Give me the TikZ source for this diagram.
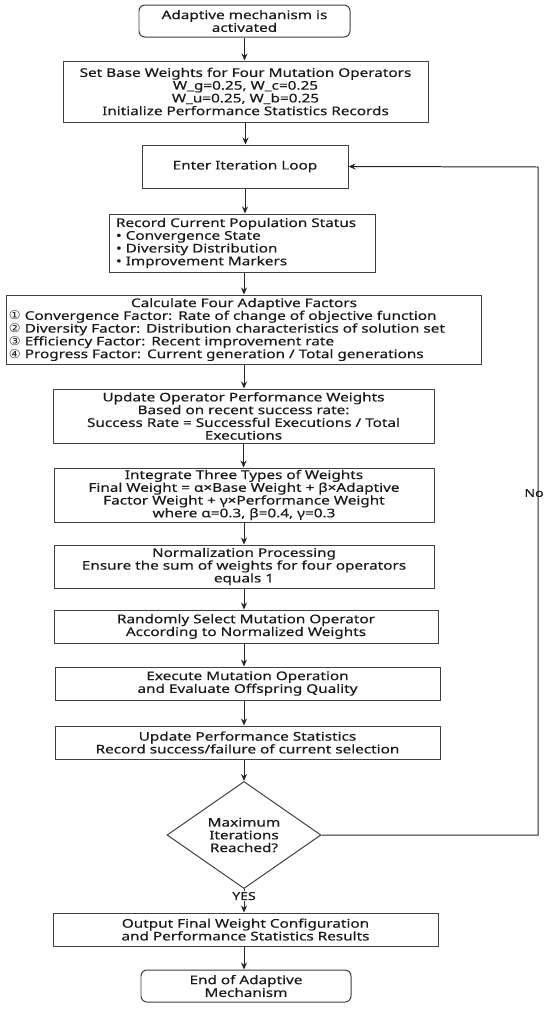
\documentclass[tikz,border=0pt]{standalone}
\usepackage{fontspec}
\setmainfont{Noto Sans}[FakeStretch=1.28,FakeBold=0.25]
\newfontfamily\symf{DejaVu Sans}[FakeStretch=1.1]
\usetikzlibrary{shapes.geometric,arrows.meta}
\begin{document}
\begin{tikzpicture}[x=1bp,y=-1bp,
  every node/.style={font=\fontsize{12}{12.8}\selectfont, text=black!90},
  box/.style={draw=black!75, line width=1pt, rectangle, inner sep=0pt, align=center},
  rbox/.style={box, rounded corners=6bp},
  dec/.style={draw=black!75, line width=1pt, diamond, inner sep=0pt, align=center},
  arr/.style={draw=black!85, line width=1pt, -{Stealth[length=7bp,width=6bp]}}]
\useasboundingbox[fill=white] (0,0) rectangle (550,1009);

\node[rbox, minimum width=211bp, minimum height=32bp] (start) at (244.5,21) {Adaptive mechanism is\\activated};
\node[box, minimum width=365bp, minimum height=61bp] (base) at (245.5,91.5) {Set Base Weights for Four Mutation Operators\\W\_g=0.25, W\_c=0.25\\W\_u=0.25, W\_b=0.25\\Initialize Performance Statistics Records};
\node[box, minimum width=206bp, minimum height=43bp] (enter) at (245,166.5) {Enter Iteration Loop};
\node[box, minimum width=266bp, minimum height=58bp, text width=252bp, align=left, inner xsep=7bp] (record) at (242,243) {Record Current Population Status\\• Convergence State\\• Diversity Distribution\\• Improvement Markers};
\node[box, minimum width=474bp, minimum height=69bp, text width=470bp, align=left, inner xsep=2bp] (calc) at (244,329.5) {\makebox[470bp][c]{Calculate Four Adaptive Factors}\\{\symf ①} Convergence Factor: Rate of change of objective function\\{\symf ②} Diversity Factor: Distribution characteristics of solution set\\{\symf ③} Efficiency Factor: Recent improvement rate\\{\symf ④} Progress Factor: Current generation / Total generations};
\node[box, minimum width=381bp, minimum height=54bp] (upd) at (243.5,416) {Update Operator Performance Weights\\Based on recent success rate:\\Success Rate = Successful Executions / Total\\Executions};
\node[box, minimum width=380bp, minimum height=54bp] (integ) at (244,495) {Integrate Three Types of Weights\\Final Weight = α×Base Weight + β×Adaptive\\Factor Weight + γ×Performance Weight\\where α=0.3, β=0.4, γ=0.3};
\node[box, minimum width=380bp, minimum height=43bp] (norm) at (244,566.5) {Normalization Processing\\Ensure the sum of weights for four operators\\equals 1};
\node[box, minimum width=384bp, minimum height=33bp] (rand) at (246,626.5) {Randomly Select Mutation Operator\\According to Normalized Weights};
\node[box, minimum width=385bp, minimum height=33bp] (exec) at (247.5,683.5) {Execute Mutation Operation\\and Evaluate Offspring Quality};
\node[box, minimum width=385bp, minimum height=33bp] (perf) at (247.5,742.5) {Update Performance Statistics\\Record success/failure of current selection};
\node[dec, minimum width=154bp, minimum height=102bp] (check) at (244,835) {Maximum\\Iterations\\Reached?};
\node[box, minimum width=385bp, minimum height=33bp] (out) at (245.5,929.5) {Output Final Weight Configuration\\and Performance Statistics Results};
\node[rbox, minimum width=210bp, minimum height=32bp] (end) at (246,986) {End of Adaptive\\Mechanism};

\coordinate (lb) at (538,835);
\coordinate (lt) at (538,167);

\draw[arr] (start.south) -- (start.south |- base.north);
\draw[arr] (base.south) -- (base.south |- enter.north);
\draw[arr] (enter.south) -- (enter.south |- record.north);
\draw[arr] (record.south -| calc.north) -- (calc.north);
\draw[arr] (calc.south) -- (calc.south |- upd.north);
\draw[arr] (upd.south) -- (upd.south |- integ.north);
\draw[arr] (integ.south) -- (integ.south |- norm.north);
\draw[arr] (norm.south) -- (norm.south |- rand.north);
\draw[arr] (check.north |- rand.south) -- (check.north |- exec.north);
\draw[arr] (check.north |- exec.south) -- (check.north |- perf.north);
\draw[arr] (check.north |- perf.south) -- (check.north);
\draw[arr] (check.south) -- node[pos=0.3, fill=white, inner sep=1pt, font=\fontsize{11}{12}\selectfont] (yes) {YES} (check.south |- out.north);
\draw[arr] (check.south |- out.south) -- (check.south |- end.north);
\draw[arr] (check.east) -- (lb) -- (lt) -- (enter.east);
\node[font=\fontsize{11}{12}\selectfont] (no) at (534,493) {No};
\end{tikzpicture}
\end{document}
